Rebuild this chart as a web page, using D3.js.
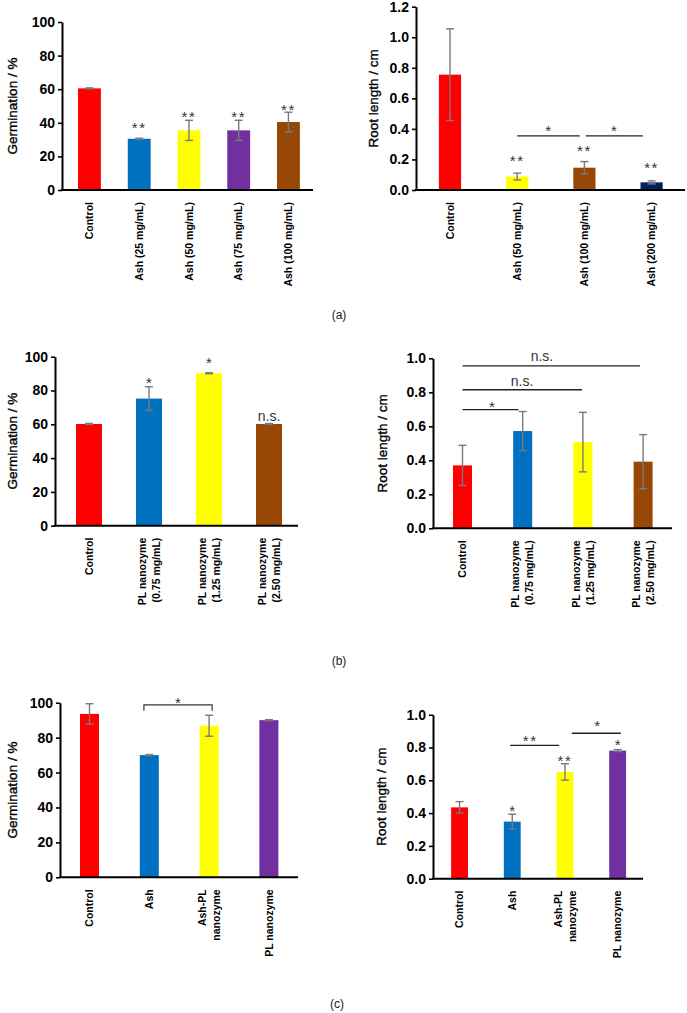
<!DOCTYPE html>
<html><head><meta charset="utf-8">
<script src="https://cdn.jsdelivr.net/npm/d3@7"></script>
<style>
body{margin:0;background:#fff;}
svg{display:block;font-family:"Liberation Sans",Arial,sans-serif;}
</style></head>
<body>
<svg id="chart" width="687" height="1013"></svg>
<script>
// ---------- DATA ----------
// (a) left: germination vs ash concentration
const catsA1 = ["Control","Ash (25 mg/mL)","Ash (50 mg/mL)","Ash (75 mg/mL)","Ash (100 mg/mL)"];
const meanA1 = [60.5, 30.5, 35.5, 35.5, 40.5];
const errA1  = [0.3, 0.3, 6, 6, 5.8];
const sigA1  = ["", "**", "**", "**", "**"];
const sigYA1 = [null, 38.7, 45.7, 45.7, 49.6];
const ticksA1 = [0,20,40,60,80,100];

// (a) right: root length vs ash concentration
const catsA2 = ["Control","Ash (50 mg/mL)","Ash (100 mg/mL)","Ash (200 mg/mL)"];
const meanA2 = [0.755, 0.088, 0.146, 0.05];
const errA2  = [0.30, 0.022, 0.04, 0.01];
const sigA2  = ["", "**", "**", "**"];
const sigYA2 = [null, 0.216, 0.275, 0.164];
const ticksA2 = [0,0.2,0.4,0.6,0.8,1.0,1.2];
// comparison lines: [fromIndex, toIndex, value, label, labelIndex, labelValue]
const cmpA2 = [[1.0, 1.93, 0.354, "*", 1.46, 0.406],[2.02, 2.87, 0.354, "*", 2.44, 0.406]];

// (b) left: germination vs PL nanozyme
const catsB1 = ["Control","PL nanozyme\n(0.75 mg/mL)","PL nanozyme\n(1.25 mg/mL)","PL nanozyme\n(2.50 mg/mL)"];
const meanB1 = [60.2, 75.2, 90.2, 60.2];
const errB1  = [0.3, 7, 0.3, 0.3];
const sigB1  = ["", "*", "*", "n.s."];
const sigYB1 = [null, 86.8, 98.6, 64.3];
const ticksB1 = [0,20,40,60,80,100];

// (b) right: root length vs PL nanozyme
const catsB2 = catsB1;
const meanB2 = [0.37, 0.572, 0.507, 0.392];
const errB2  = [0.118, 0.115, 0.175, 0.159];
const ticksB2 = [0,0.2,0.4,0.6,0.8,1.0];
const cmpB2 = [[0, 0.93, 0.698, "*", 0.49, 0.737],[0, 1.985, 0.815, "n.s.", 0.99, 0.86],[0, 2.95, 0.956, "n.s.", 1.32, 1.008]];

// (c) left: germination, combined treatments
const catsC1 = ["Control","Ash","Ash-PL\nnanozyme","PL nanozyme"];
const meanC1 = [93.6, 70.0, 86.8, 90.0];
const errC1  = [5.8, 0.3, 6, 0.3];
const ticksC1 = [0,20,40,60,80,100];
const bracketC1 = [0.91, 2.05, 98.7, 95.4, "*", 1.48, 101.6];

// (c) right: root length, combined treatments
const catsC2 = catsC1;
const meanC2 = [0.435, 0.348, 0.651, 0.781];
const errC2  = [0.035, 0.045, 0.05, 0.006];
const sigC2  = ["", "*", "**", "*"];
const sigYC2 = [null, 0.437, 0.742, 0.834];
const ticksC2 = [0,0.2,0.4,0.6,0.8,1.0];
const cmpC2 = [[0.96, 1.89, 0.813, "**", 1.34, 0.864],[2.13, 3.06, 0.887, "*", 2.61, 0.955]];

const panelLetters = ["(a)","(b)","(c)"];

// ---------- STYLE / LAYOUT ----------
const RED="#ff0000", BLUE="#0070c0", YEL="#ffff00", PUR="#7030a0", BRN="#974806", NAVY="#002060";
const panels = [
  {cats:catsA1, mean:meanA1, err:errA1, sig:sigA1, sigY:sigYA1, ticks:ticksA1, max:100, fmt:d3.format("d"),
   title:"Germination / %", titleX:12, x0:62, x1:313, band:[64.6,313.3], barFrac:0.46, y0:190, yTop:22,
   colors:[RED,BLUE,YEL,PUR,BRN]},
  {cats:catsA2, mean:meanA2, err:errA2, sig:sigA2, sigY:sigYA2, ticks:ticksA2, max:1.2, fmt:d3.format(".1f"),
   title:"Root length / cm", titleX:373, x0:416, x1:685, band:[416.4,685.2], barFrac:0.33, y0:190, yTop:6.7,
   colors:[RED,YEL,BRN,NAVY], cmp:cmpA2},
  {cats:catsB1, mean:meanB1, err:errB1, sig:sigB1, sigY:sigYB1, ticks:ticksB1, max:100, fmt:d3.format("d"),
   title:"Germination / %", titleX:12, x0:55, x1:298, band:[59,299], barFrac:0.433, y0:525.7, yTop:356.7,
   colors:[RED,BLUE,YEL,BRN]},
  {cats:catsB2, mean:meanB2, err:errB2, ticks:ticksB2, max:1.0, fmt:d3.format(".1f"),
   title:"Root length / cm", titleX:382, x0:433, x1:672, band:[432.4,673.2], barFrac:0.316, y0:528.3, yTop:358.3,
   colors:[RED,BLUE,YEL,BRN], cmp:cmpB2},
  {cats:catsC1, mean:meanC1, err:errC1, ticks:ticksC1, max:100, fmt:d3.format("d"),
   title:"Germination / %", titleX:12.5, x0:60, x1:298, band:[59.6,298.8], barFrac:0.318, y0:877.3, yTop:702.7,
   colors:[RED,BLUE,YEL,PUR], bracket:bracketC1},
  {cats:catsC2, mean:meanC2, err:errC2, sig:sigC2, sigY:sigYC2, ticks:ticksC2, max:1.0, fmt:d3.format(".1f"),
   title:"Root length / cm", titleX:381, x0:433, x1:643, band:[433.2,644], barFrac:0.32, y0:878.7, yTop:714.7,
   colors:[RED,BLUE,YEL,PUR], cmp:cmpC2}
];
const letterPos = [[339,319],[339,665],[337,1008]];

const svg = d3.select("#chart");
const SIGCOL = "#333";

function sigText(g, x, yPix, label){
  const isStar = label.indexOf("*") >= 0;
  g.append("text").attr("x", x).attr("y", yPix + (isStar ? 8.5 : 4))
    .attr("text-anchor","middle").attr("font-size", isStar ? 15 : 14).attr("fill", SIGCOL)
    .attr("letter-spacing", isStar && label.length>1 ? 1.5 : 0)
    .text(label);
}

panels.forEach(p => {
  const g = svg.append("g");
  const y = d3.scaleLinear().domain([0, p.max]).range([p.y0, p.yTop]);
  const xb = d3.scaleBand().domain(p.cats).range(p.band).padding(0);
  const bw = xb.bandwidth() * p.barFrac;
  const cx = i => xb(p.cats[i]) + xb.bandwidth()/2;
  const xi = d3.scaleLinear().domain([0,1]).range([cx(0), cx(1)]);

  // bars
  g.selectAll("rect.bar").data(p.mean).join("rect")
    .attr("x", (d,i) => cx(i) - bw/2).attr("y", d => y(d))
    .attr("width", bw).attr("height", d => y(0) - y(d))
    .attr("fill", (d,i) => p.colors[i]);

  // error bars
  const cap = 4;
  p.mean.forEach((m,i) => {
    const e = p.err[i], x = cx(i);
    const eg = g.append("g").attr("stroke","#7a7a7a").attr("stroke-width",1.4);
    eg.append("line").attr("x1",x).attr("x2",x).attr("y1",y(m+e)).attr("y2",y(m-e));
    eg.append("line").attr("x1",x-cap).attr("x2",x+cap).attr("y1",y(m+e)).attr("y2",y(m+e));
    eg.append("line").attr("x1",x-cap).attr("x2",x+cap).attr("y1",y(m-e)).attr("y2",y(m-e));
  });

  // y axis
  const ax = g.append("g").attr("transform", `translate(${p.x0},0)`)
    .call(d3.axisLeft(y).tickValues(p.ticks).tickFormat(p.fmt).tickSize(4).tickSizeOuter(0).tickPadding(3));
  ax.select(".domain").attr("stroke","#000").attr("stroke-width",2);
  ax.selectAll(".tick line").attr("stroke","#000").attr("stroke-width",1.6);
  ax.selectAll(".tick text").attr("font-size",14).attr("font-weight","bold").attr("fill","#000")
    .attr("font-family",'"Liberation Sans",Arial,sans-serif');

  // x axis line
  g.append("line").attr("x1", p.x0 - 1).attr("x2", p.x1).attr("y1", p.y0).attr("y2", p.y0)
    .attr("stroke","#000").attr("stroke-width",2);

  // y title
  g.append("text").attr("transform", `translate(${p.titleX},${(p.y0+p.yTop)/2}) rotate(-90)`)
    .attr("text-anchor","middle").attr("dy","0.35em").attr("font-size",13.5).attr("fill","#000")
    .attr("stroke","#000").attr("stroke-width",0.35)
    .text(p.title);

  // x category labels (rotated)
  p.cats.forEach((c,i) => {
    const lines = c.split("\n");
    const n = lines.length;
    const t = g.append("text")
      .attr("transform", `translate(${cx(i)},${p.y0 + 12}) rotate(-90)`)
      .attr("text-anchor","end").attr("font-size",10.5).attr("font-weight","bold").attr("fill","#000");
    lines.forEach((ln, k) => {
      t.append("tspan").attr("x",0).attr("y", (k - (n-1)/2) * 14).attr("dy","0.35em").text(ln);
    });
  });

  // significance labels above bars
  if (p.sig) p.sig.forEach((s,i) => { if (s) sigText(g, cx(i), y(p.sigY[i]), s); });

  // comparison lines
  if (p.cmp) p.cmp.forEach(c => {
    g.append("line").attr("x1", xi(c[0])).attr("x2", xi(c[1])).attr("y1", y(c[2])).attr("y2", y(c[2]))
      .attr("stroke","#222").attr("stroke-width",1.3);
    sigText(g, xi(c[4]), y(c[5]), c[3]);
  });

  // bracket
  if (p.bracket) {
    const b = p.bracket;
    g.append("path")
      .attr("d", `M${xi(b[0])},${y(b[3])}V${y(b[2])}H${xi(b[1])}V${y(b[3])}`)
      .attr("fill","none").attr("stroke","#333").attr("stroke-width",1.2);
    sigText(g, xi(b[5]), y(b[6]), b[4]);
  }
});

// panel letters
panelLetters.forEach((l,i) => {
  svg.append("text").attr("x", letterPos[i][0]).attr("y", letterPos[i][1])
    .attr("text-anchor","middle").attr("font-size",12).attr("fill","#222").text(l);
});
</script>
</body></html>
